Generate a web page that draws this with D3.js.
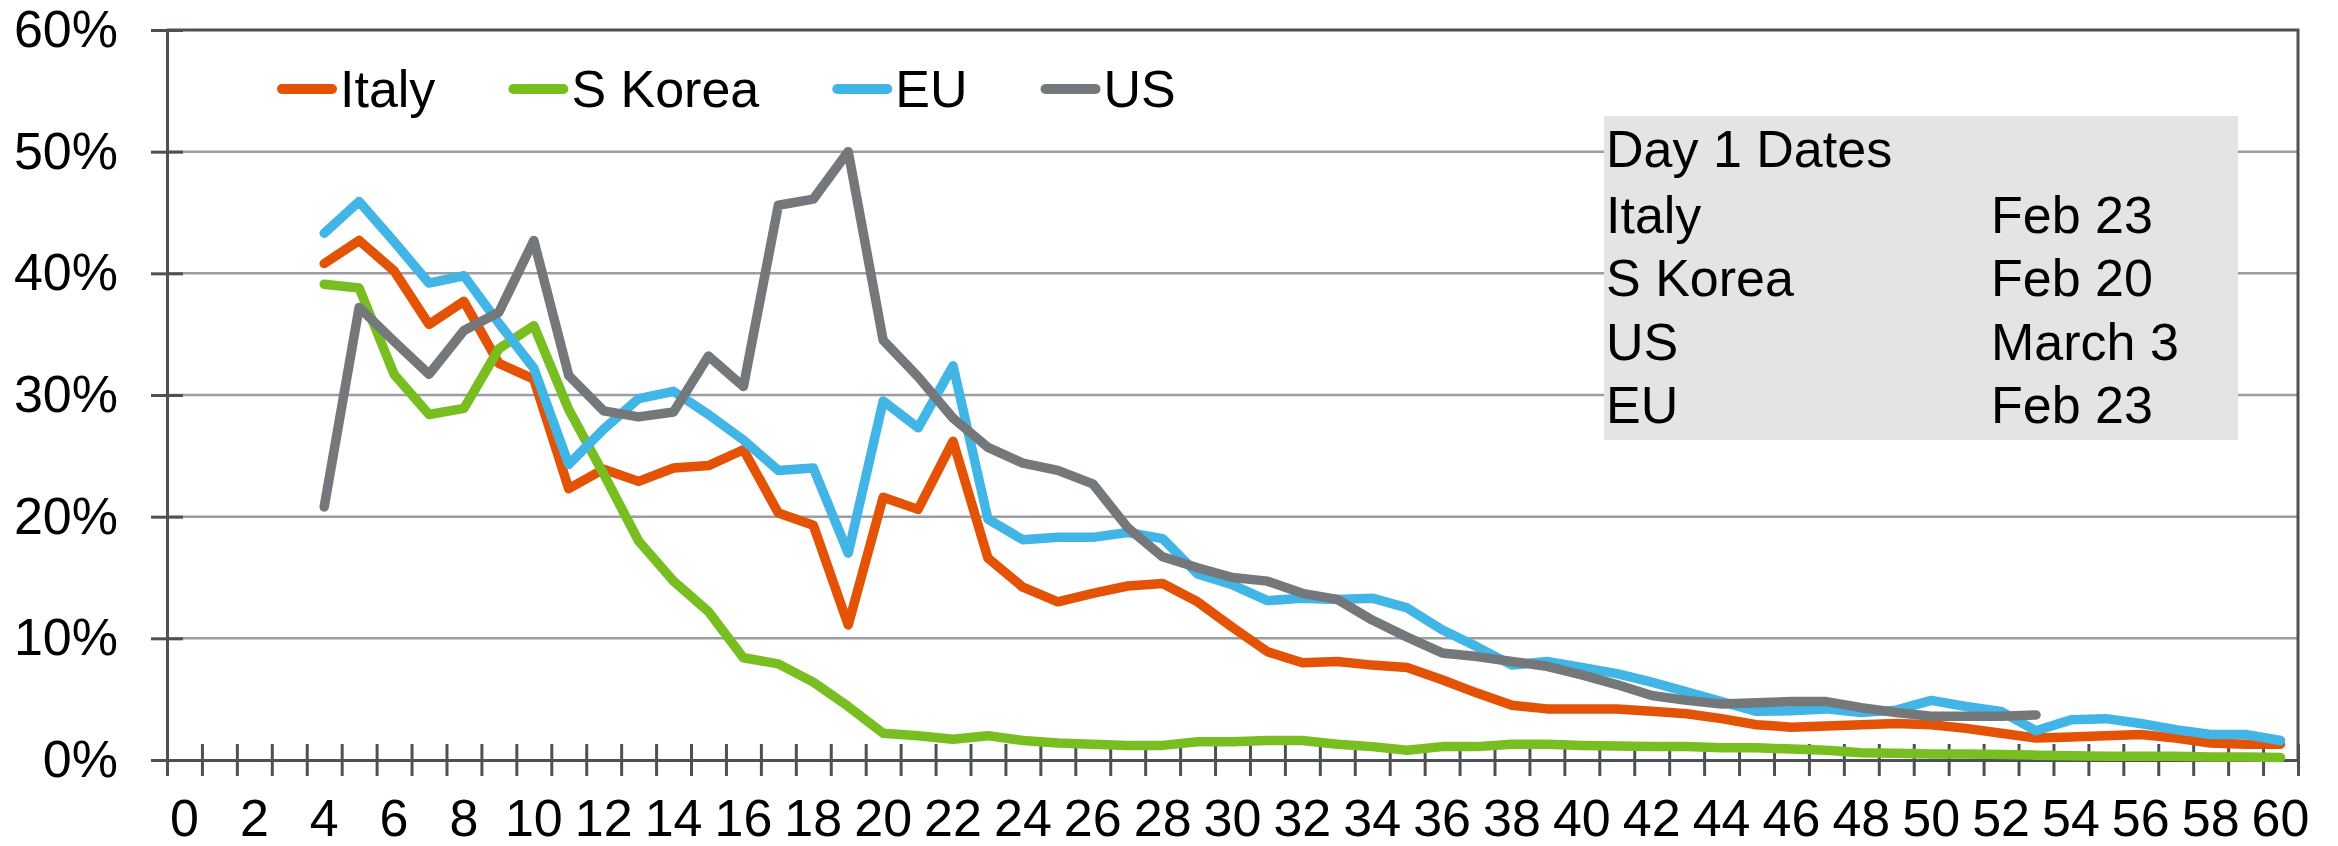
<!DOCTYPE html>
<html>
<head>
<meta charset="utf-8">
<script src="https://cdn.jsdelivr.net/npm/d3@7"></script>
<style>
  body { margin: 0; background: #fff; }
  svg text { font-family: 'Liberation Sans', Arial, sans-serif; fill: #000; }
</style>
</head>
<body>
<div id="chart"></div>
<script>
// days since day 1, 0..60
const days = d3.range(0, 61)
const firstDay = 4

const italy = [40.8, 42.7, 40.2, 35.8, 37.7, 32.6, 31.3, 22.3, 23.9, 22.9, 24.0, 24.2, 25.5, 20.3, 19.3, 11.1,
  21.6, 20.6, 26.2, 16.6, 14.2, 13.0, 13.7, 14.3, 14.5, 13.0, 10.9, 8.9, 8.0, 8.1, 7.8, 7.6, 6.6, 5.5, 4.5,
  4.2, 4.2, 4.2, 4.0, 3.8, 3.4, 2.9, 2.7, 2.8, 2.9, 3.0, 2.9, 2.6, 2.2, 1.8, 1.9, 2.0, 2.1, 1.8, 1.4, 1.3, 1.3]
const sKorea = [39.1, 38.8, 31.7, 28.4, 28.9, 33.8, 35.7, 28.8, 23.5, 18.0, 14.7, 12.2, 8.4, 7.9, 6.4, 4.4,
  2.2, 2.0, 1.7, 2.0, 1.6, 1.4, 1.3, 1.2, 1.2, 1.5, 1.5, 1.6, 1.6, 1.3, 1.1, 0.8, 1.1, 1.1, 1.3,
  1.3, 1.2, 1.15, 1.1, 1.1, 1.0, 1.0, 0.9, 0.8, 0.6, 0.55, 0.5, 0.5, 0.45, 0.4, 0.35, 0.3, 0.3, 0.3, 0.25, 0.25, 0.2]
const eu = [43.3, 45.9, 42.6, 39.2, 39.8, 35.9, 32.2, 24.3, 27.2, 29.7, 30.3, 28.4, 26.3, 23.8, 24.0, 17.0,
  29.5, 27.3, 32.4, 19.8, 18.1, 18.3, 18.3, 18.7, 18.2, 15.3, 14.4, 13.1, 13.3, 13.2, 13.3, 12.5, 10.7, 9.3, 7.8,
  8.1, 7.6, 7.1, 6.4, 5.6, 4.8, 4.0, 4.05, 4.2, 3.9, 4.1, 4.9, 4.4, 4.0, 2.4, 3.3, 3.4, 3.0, 2.5, 2.1, 2.1, 1.6]
const us = [20.8, 37.2, 34.4, 31.7, 35.3, 36.8, 42.7, 31.6, 28.7, 28.2, 28.6, 33.2, 30.7, 45.6, 46.1, 50.0,
  34.5, 31.5, 28.1, 25.7, 24.4, 23.8, 22.7, 19.1, 16.7, 15.8, 15.0, 14.7, 13.7, 13.2, 11.5, 10.1, 8.8, 8.5, 8.1,
  7.7, 7.0, 6.2, 5.3, 4.9, 4.6, 4.7, 4.8, 4.8, 4.3, 3.9, 3.6, 3.6, 3.6, 3.7]

const seriesNames = ['Italy', 'S Korea', 'EU', 'US']
const seriesColors = ['#E35205', '#78BE20', '#41B6E6', '#75787B']
const seriesValues = [italy, sKorea, eu, us]

const yTicks = [0, 0.1, 0.2, 0.3, 0.4, 0.5, 0.6]

const boxTitle = 'Day 1 Dates'
const boxCountries = ['Italy', 'S Korea', 'US', 'EU']
const boxDates = ['Feb 23', 'Feb 20', 'March 3', 'Feb 23']

const width = 2338, height = 846
const margin = {top: 30, right: 40, bottom: 86, left: 167}
const fontSize = 52

const svg = d3
  .select('#chart')
  .append('svg')
  .attr('width', width)
  .attr('height', height)

const x = d3
  .scaleBand()
  .domain(days)
  .range([margin.left, width - margin.right])
  .padding(0)

const y = d3
  .scaleLinear()
  .domain([0, 0.6])
  .range([height - margin.bottom, margin.top])

const x0 = margin.left, x1 = width - margin.right
const yBottom = y(0), yTop = y(0.6)

// gridlines
svg
  .append('g')
  .selectAll('line')
  .data(yTicks.slice(1, -1))
  .enter()
  .append('line')
  .attr('x1', x0)
  .attr('x2', x1)
  .attr('y1', function(d) { return y(d) })
  .attr('y2', function(d) { return y(d) })
  .attr('stroke', '#9b9da0')
  .attr('stroke-width', 2.5)

// plot frame, top and right
svg
  .append('path')
  .attr('d', `M${x0},${yTop}H${x1}V${yBottom}`)
  .attr('fill', 'none')
  .attr('stroke', '#4d5156')
  .attr('stroke-width', 3)

// y axis
const yAxis = svg
  .append('g')
  .attr('transform', `translate(${x0},0)`)
  .call(d3.axisLeft(y).tickValues(yTicks).tickFormat(d3.format('.0%')).tickSize(16).tickPadding(33))
yAxis.select('.domain').attr('stroke', '#4d5156').attr('stroke-width', 3)
yAxis.selectAll('.tick line').attr('x2', 16).attr('x1', -16).attr('stroke', '#4d5156').attr('stroke-width', 3)
yAxis.selectAll('.tick text').style('font-size', fontSize + 'px').attr('fill', '#000')

// x axis: tick marks on category boundaries
const xEdge = d3.scaleLinear().domain([0, days.length]).range([x0, x1])
const xTickAxis = svg
  .append('g')
  .attr('transform', `translate(0,${yBottom})`)
  .call(d3.axisBottom(xEdge).tickValues(d3.range(0, days.length + 1)).tickFormat('').tickSizeOuter(0))
xTickAxis.select('.domain').attr('stroke', '#4d5156').attr('stroke-width', 3)
xTickAxis.selectAll('.tick line').attr('y1', -16).attr('y2', 16).attr('stroke', '#4d5156').attr('stroke-width', 3)

// x labels centred in the categories, every second day
const xAxis = svg
  .append('g')
  .attr('transform', `translate(0,${yBottom})`)
  .call(d3.axisBottom(x).tickValues(days.filter(function(d) { return d % 2 === 0 })).tickSize(0).tickPadding(39))
xAxis.select('.domain').remove()
xAxis.selectAll('.tick text').style('font-size', fontSize + 'px').attr('fill', '#000')

// lines
const line = d3
  .line()
  .x(function(d) { return x(d.day) + x.bandwidth() / 2 })
  .y(function(d) { return y(d.value / 100) })

svg
  .append('g')
  .selectAll('path')
  .data(seriesValues)
  .enter()
  .append('path')
  .attr('d', function(vals) {
    return line(vals.map(function(v, i) { return {day: firstDay + i, value: v} }))
  })
  .attr('fill', 'none')
  .attr('stroke', function(d, i) { return seriesColors[i] })
  .attr('stroke-width', 9.5)
  .attr('stroke-linejoin', 'round')
  .attr('stroke-linecap', 'round')

// legend
const legend = svg.append('g')
let lx = 282
const ly = 89
seriesNames.forEach(function(name, i) {
  legend
    .append('line')
    .attr('x1', lx)
    .attr('x2', lx + 50)
    .attr('y1', ly)
    .attr('y2', ly)
    .attr('stroke', seriesColors[i])
    .attr('stroke-width', 10)
    .attr('stroke-linecap', 'round')
  const t = legend
    .append('text')
    .attr('x', lx + 58)
    .attr('y', 107)
    .style('font-size', fontSize + 'px')
    .text(name)
  lx = lx + 58 + t.node().getComputedTextLength() + 78
})

// day 1 dates box
const box = svg.append('g')
box
  .append('rect')
  .attr('x', 1604)
  .attr('y', 116)
  .attr('width', 634)
  .attr('height', 324)
  .attr('fill', '#e3e4e6')
box
  .append('text')
  .attr('x', 1606)
  .attr('y', 167)
  .style('font-size', fontSize + 'px')
  .text(boxTitle)
box
  .selectAll('.country')
  .data(boxCountries)
  .enter()
  .append('text')
  .attr('class', 'country')
  .attr('x', 1606)
  .attr('y', function(d, i) { return 233 + i * 63.3 })
  .style('font-size', fontSize + 'px')
  .text(function(d) { return d })
box
  .selectAll('.date')
  .data(boxDates)
  .enter()
  .append('text')
  .attr('class', 'date')
  .attr('x', 1991)
  .attr('y', function(d, i) { return 233 + i * 63.3 })
  .style('font-size', fontSize + 'px')
  .text(function(d) { return d })
</script>
</body>
</html>
